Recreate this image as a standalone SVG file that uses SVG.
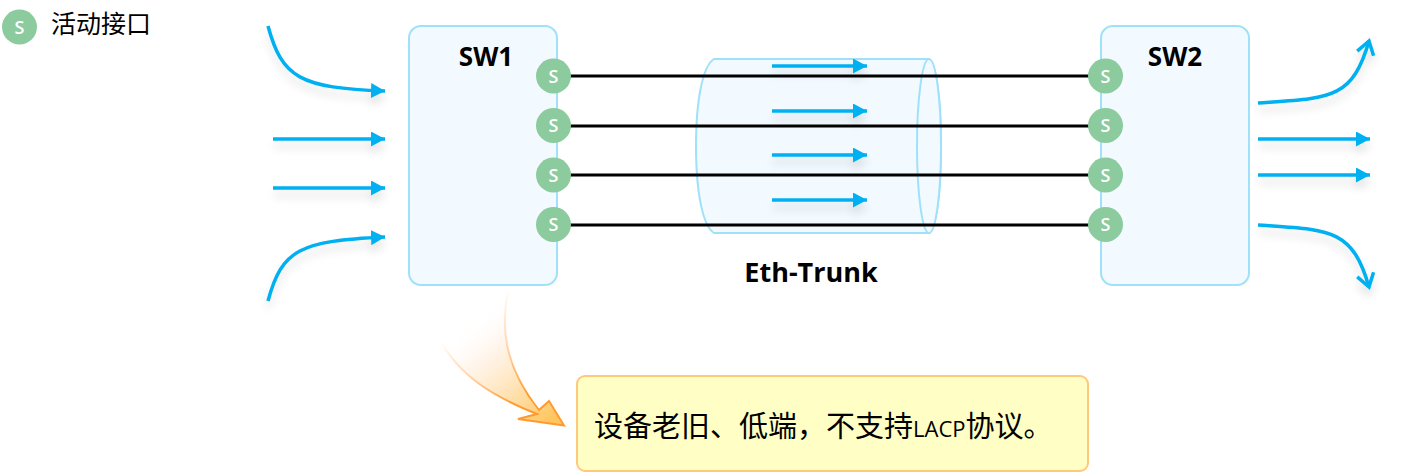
<svg xmlns="http://www.w3.org/2000/svg" width="1414" height="472" viewBox="0 0 1414 472">
<style>
.box{fill:#f2faff;stroke:#9fe1f9;stroke-width:2}
.dot{fill:#8ccb9e}
.s{font:600 18px "Open Sans","Noto Sans",sans-serif;fill:#fff;text-anchor:middle}
.t{font-family:"Open Sans","Noto Sans","Noto Sans CJK SC",sans-serif;fill:#000}
.b{font-weight:700;text-anchor:middle}
.link{stroke:#000;stroke-width:3;fill:none}
.flow{stroke:#00b0f0;stroke-width:3.500;fill:none}
.fl{filter:url(#sh)}
</style>
<defs>
<marker id="tri" markerUnits="userSpaceOnUse" markerWidth="16" markerHeight="16" refX="14" refY="7.500" orient="auto"><path d="M0 0L14 7.500L0 15z" fill="#00b0f0"/></marker>
<marker id="open" markerUnits="userSpaceOnUse" markerWidth="22" markerHeight="26" refX="16" refY="12" orient="auto"><path d="M3 3.500L16 12L3 20.500" fill="none" stroke="#00b0f0" stroke-width="3.500"/></marker>
<filter id="sh" x="-30%" y="-60%" width="160%" height="260%"><feGaussianBlur in="SourceAlpha" stdDeviation="5"/><feOffset dy="7"/><feComponentTransfer><feFuncA type="linear" slope=".13"/></feComponentTransfer><feMerge><feMergeNode/><feMergeNode in="SourceGraphic"/></feMerge></filter>
<linearGradient id="og" gradientUnits="userSpaceOnUse" x1="470" y1="320" x2="550" y2="420"><stop offset="0" stop-color="#fff" stop-opacity="0"/><stop offset=".3" stop-color="#ffeedd" stop-opacity=".6"/><stop offset="1" stop-color="#ffc65e"/></linearGradient>
<linearGradient id="os" gradientUnits="userSpaceOnUse" x1="470" y1="320" x2="550" y2="420"><stop offset="0" stop-color="#ff9a2e" stop-opacity="0"/><stop offset=".3" stop-color="#ffb570" stop-opacity=".45"/><stop offset=".72" stop-color="#ff9a2e"/></linearGradient>
</defs>

<g id="legend">
<circle class="dot" cx="19.500" cy="27" r="17.500"/>
<text class="s" x="19.500" y="33.500">S</text>
<text class="t" x="51" y="33" font-size="25">活动接口</text>
</g>

<g id="sw1">
<rect class="box" x="409" y="26" width="148" height="259" rx="12"/>
<text class="t b" x="486" y="66" font-size="26">SW1</text>
</g>
<g id="sw2">
<rect class="box" x="1101" y="26" width="148" height="259" rx="12"/>
<text class="t b" x="1175" y="66" font-size="26">SW2</text>
</g>

<g id="eth-trunk">
<path class="box" d="M714 59H929C936 65 941 95 941 146C941 197 936 227 929 233H714C704 227 696 197 696 146C696 95 704 65 714 59Z"/>
<ellipse class="box" cx="929" cy="146" rx="12" ry="87"/>
<text class="t b" x="811" y="282" font-size="27">Eth-Trunk</text>
</g>

<g id="connectors">
<path class="link" d="M553 76H1105M553 126H1105M553 175H1105M553 225H1105"/>
<g class="fl">
<path class="flow" marker-end="url(#tri)" d="M772 66H867"/>
<path class="flow" marker-end="url(#tri)" d="M772 111H867"/>
<path class="flow" marker-end="url(#tri)" d="M772 155H867"/>
<path class="flow" marker-end="url(#tri)" d="M772 200H867"/>
</g>
<g class="fl">
<path class="flow" marker-end="url(#tri)" d="M268 26C282 78 300 88 385 91"/>
<path class="flow" marker-end="url(#tri)" d="M273 139H385"/>
<path class="flow" marker-end="url(#tri)" d="M273 188H385"/>
<path class="flow" marker-end="url(#tri)" d="M268 301C282 249 300 241 385 237"/>
</g>
<g class="fl">
<path class="flow" marker-end="url(#open)" d="M1258 103C1330 98 1352 100 1369 41"/>
<path class="flow" marker-end="url(#tri)" d="M1258 139H1370"/>
<path class="flow" marker-end="url(#tri)" d="M1258 175H1370"/>
<path class="flow" marker-end="url(#open)" d="M1258 225C1330 230 1352 228 1369 287"/>
</g>
<path d="M508 291C501 325 503 365 539 410L549 401L564 425.500L518 419L537 414C495 397 460 378 438 337Z" fill="url(#og)" stroke="url(#os)" stroke-width="2"/>
</g>

<g id="port-l1"><circle class="dot" cx="553.500" cy="76" r="17.500"/><text class="s" x="553.500" y="82.500">S</text></g>
<g id="port-l2"><circle class="dot" cx="553.500" cy="125.500" r="17.500"/><text class="s" x="553.500" y="132">S</text></g>
<g id="port-l3"><circle class="dot" cx="553.500" cy="175" r="17.500"/><text class="s" x="553.500" y="181.500">S</text></g>
<g id="port-l4"><circle class="dot" cx="553.500" cy="224.500" r="17.500"/><text class="s" x="553.500" y="231">S</text></g>
<g id="port-r1"><circle class="dot" cx="1105.500" cy="76" r="17.500"/><text class="s" x="1105.500" y="82.500">S</text></g>
<g id="port-r2"><circle class="dot" cx="1105.500" cy="125.500" r="17.500"/><text class="s" x="1105.500" y="132">S</text></g>
<g id="port-r3"><circle class="dot" cx="1105.500" cy="175" r="17.500"/><text class="s" x="1105.500" y="181.500">S</text></g>
<g id="port-r4"><circle class="dot" cx="1105.500" cy="224.500" r="17.500"/><text class="s" x="1105.500" y="231">S</text></g>

<g id="note">
<rect x="577" y="376" width="511" height="95" rx="8" fill="#ffffc5" stroke="#fdc97c" stroke-width="2"/>
<text class="t" x="594" y="437" font-size="29">设备老旧、低端，不支持<tspan font-size="22">LACP</tspan>协议。</text>
</g>
</svg>
